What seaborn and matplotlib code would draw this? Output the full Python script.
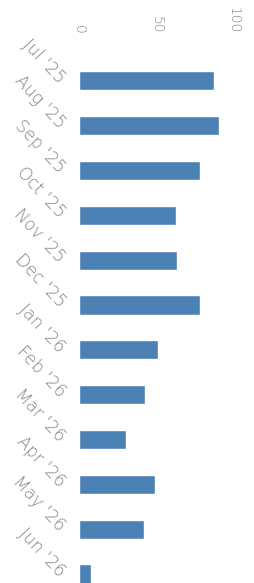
import matplotlib
matplotlib.use("Agg")
import matplotlib.pyplot as plt
import pandas as pd
import seaborn as sns

# Monthly values
months = ["Jul '25", "Aug '25", "Sep '25", "Oct '25", "Nov '25", "Dec '25",
          "Jan '26", "Feb '26", "Mar '26", "Apr '26", "May '26", "Jun '26"]
values = [87.5, 90.5, 78.5, 62.5, 63.5, 78, 51, 43, 30.5, 49.5, 42, 7.5]
value_ticks = [0, 50, 100]

df = pd.DataFrame({"month": months, "value": values})

sns.set_theme(style="white")
plt.rcParams["font.family"] = ["DejaVu Sans"]

fig = plt.figure(figsize=(2.55, 5.83), dpi=100)
# axes runs past the bottom edge, the last bar is cut off like in the reference
ax = fig.add_axes([79 / 255, 1 - 596.4 / 583, 154.5 / 255, 538 / 583])

sns.barplot(data=df, x="value", y="month", orient="h", color="#4c81b5",
            width=0.43, saturation=1, ax=ax)

ax.set_xlim(0, 100)
ax.set_ylim(11.5, -0.5)
ax.set_xlabel("")
ax.set_ylabel("")
sns.despine(ax=ax, left=True, bottom=True)

ax.xaxis.tick_top()
ax.set_xticks(value_ticks)
ax.set_xticklabels([str(v) for v in value_ticks], rotation=-90,
                   fontsize=10, color="#858585", fontweight="light")
ax.tick_params(axis="x", length=0, pad=18)
ax.tick_params(axis="y", length=0, pad=12)
for lbl in ax.get_yticklabels():
    lbl.set_rotation(-47)
    lbl.set_rotation_mode("anchor")
    lbl.set_ha("right")
    lbl.set_va("center")
    lbl.set_fontsize(12.5)
    lbl.set_fontweight("light")
    lbl.set_color("#858585")

fig.savefig("out.png", dpi=100)
plt.close(fig)
